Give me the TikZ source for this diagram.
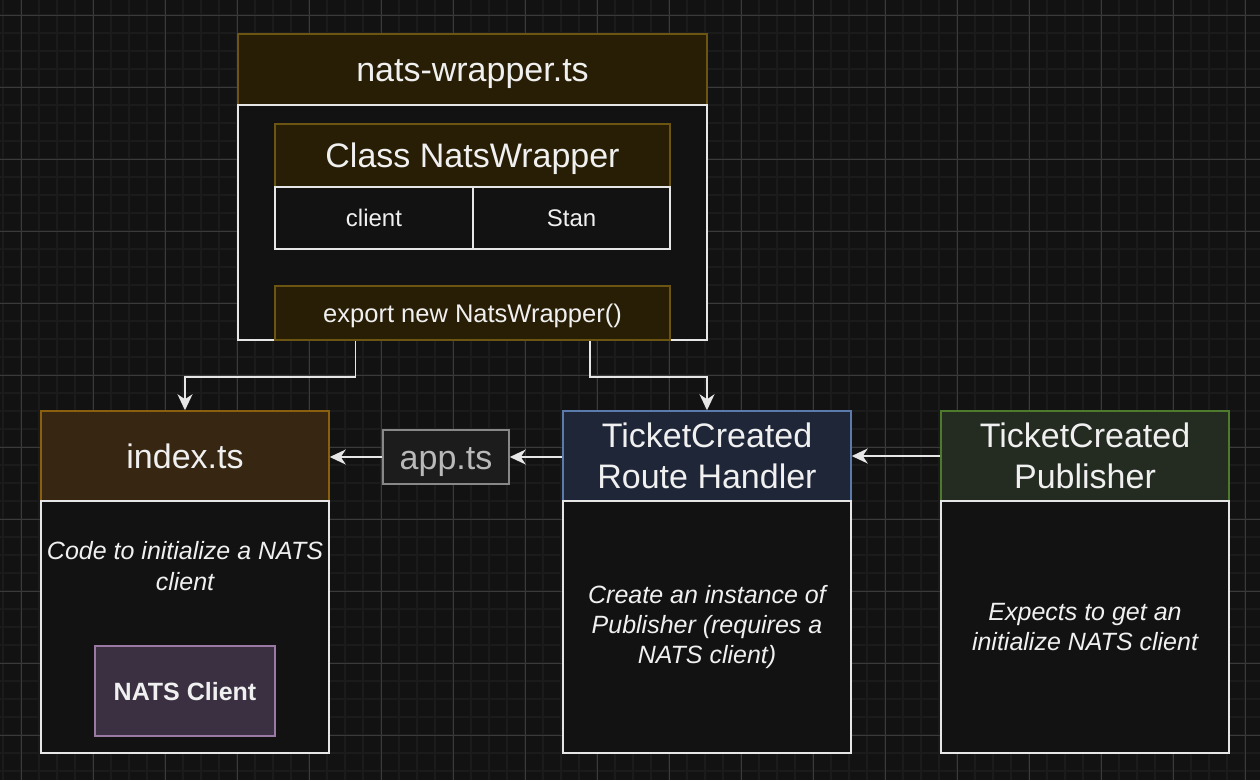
\documentclass[tikz,border=0pt]{standalone}
\usepackage{fontspec}
\setmainfont{Liberation Sans}
\usetikzlibrary{arrows.meta,calc}
\definecolor{bg}{RGB}{18,18,18}
\definecolor{gminor}{RGB}{27,27,27}
\definecolor{gmajor}{RGB}{58,58,58}
\definecolor{olivef}{RGB}{40,30,5}
\definecolor{olived}{RGB}{108,84,18}
\definecolor{brownf}{RGB}{54,38,18}
\definecolor{brownd}{RGB}{138,95,16}
\definecolor{navyf}{RGB}{30,38,56}
\definecolor{navyd}{RGB}{91,123,173}
\definecolor{greenf}{RGB}{36,44,34}
\definecolor{greend}{RGB}{78,122,46}
\definecolor{purpf}{RGB}{58,48,66}
\definecolor{purpd}{RGB}{154,122,165}
\definecolor{appf}{RGB}{28,28,28}
\definecolor{appd}{RGB}{136,136,136}
\definecolor{appt}{RGB}{185,185,185}
\definecolor{txt}{RGB}{240,240,240}
\definecolor{edge}{RGB}{230,230,230}
\tikzset{
  box/.style={draw, line width=1.5pt, inner sep=0pt, text=txt, align=center},
  body/.style={box, fill=bg, draw=edge},
  onebig/.style={font=\fontsize{34}{41}\selectfont, text height=24.5pt, text depth=0pt},
  onemid/.style={font=\fontsize{#1}{30}\selectfont, text height=0.72*#1pt, text depth=0pt},
  big/.style={font=\fontsize{34}{41}\selectfont},
  arr/.style={draw=edge, line width=1.6pt, -{Stealth[length=16pt,width=15pt,inset=5pt]}},
}
\begin{document}
\begin{tikzpicture}[x=1pt,y=-1pt]
\fill[bg] (0,0) rectangle (1260,780);
\useasboundingbox (0,0) rectangle (1260,780);
% grid
\foreach \x in {3,21,...,1260} \draw[gminor, line width=1.6pt] (\x,0) -- (\x,780);
\foreach \y in {-3,15,...,780} \draw[gminor, line width=1.6pt] (0,\y) -- (1260,\y);
\foreach \x in {21,93,...,1260} \draw[gmajor, line width=0.8pt] (\x,0) -- (\x,780);
\foreach \y in {15,87,...,780} \draw[gmajor, line width=0.8pt] (0,\y) -- (1260,\y);

% nats-wrapper.ts
\node[box, onebig, fill=olivef, draw=olived, minimum width=469pt, minimum height=71pt] (nwh) at (472.5,69.5) {nats-wrapper.ts};
\node[body, minimum width=469pt, minimum height=235pt] (nwb) at (472.5,222.5) {};
\node[box, onebig, fill=olivef, draw=olived, minimum width=395pt, minimum height=63pt] (cls) at (472.5,155.5) {Class NatsWrapper};
\node[body, onemid=24, minimum width=198pt, minimum height=62pt] (client) at (374,218) {client};
\node[body, onemid=24, minimum width=197pt, minimum height=62pt] (stan) at (571.5,218) {Stan};
\node[box, onemid=25.5, fill=olivef, draw=olived, minimum width=395pt, minimum height=54pt] (export) at (472.5,313) {export new NatsWrapper()};

% index.ts
\node[box, onebig, fill=brownf, draw=brownd, minimum width=288pt, minimum height=90pt] (idxh) at (185,456) {index.ts};
\node[body, minimum width=288pt, minimum height=252pt] (idxb) at (185,627) {};
\node[text=txt, align=center, font=\fontsize{25}{31}\selectfont\itshape] (idxt) at (185,566) {Code to initialize a NATS\\client};
\node[box, onemid=25, font=\fontsize{25}{30}\selectfont\bfseries, fill=purpf, draw=purpd, minimum width=180pt, minimum height=90pt] (natsc) at (185,691) {NATS Client};

% app.ts
\node[box, onebig, fill=appf, draw=appd, text=appt, minimum width=126pt, minimum height=54pt] (app) at (446,457) {app.ts};

% route handler
\node[box, fill=navyf, draw=navyd, big, minimum width=288pt, minimum height=90pt] (rhh) at (707,456) {TicketCreated\\Route Handler};
\node[body, minimum width=288pt, minimum height=252pt] (rhb) at (707,627) {};
\node[text=txt, align=center, font=\fontsize{25}{30}\selectfont\itshape] (rht) at (707,627) {Create an instance of\\Publisher (requires a\\NATS client)};

% publisher
\node[box, fill=greenf, draw=greend, big, minimum width=288pt, minimum height=90pt] (pubh) at (1085,456) {TicketCreated\\Publisher};
\node[body, minimum width=288pt, minimum height=252pt] (pubb) at (1085,627) {};
\node[text=txt, align=center, font=\fontsize{25}{30}\selectfont\itshape] (pubt) at (1085,627) {Expects to get an\\initialize NATS client};

% connectors
\coordinate (e1) at ($(export.south west)!0.205!(export.south east)$);
\coordinate (e2) at ($(export.south west)!0.797!(export.south east)$);
\draw[arr] (e1) -- ++(0,36) -| (idxh.north);
\draw[arr] (e2) -- ++(0,36) -| (rhh.north);
\draw[arr] (app.west) -- (app.west -| idxh.east);
\draw[arr] (rhh.west |- app.east) -- (app.east);
\draw[arr] (pubh.west) -- (rhh.east);
\end{tikzpicture}
\end{document}
